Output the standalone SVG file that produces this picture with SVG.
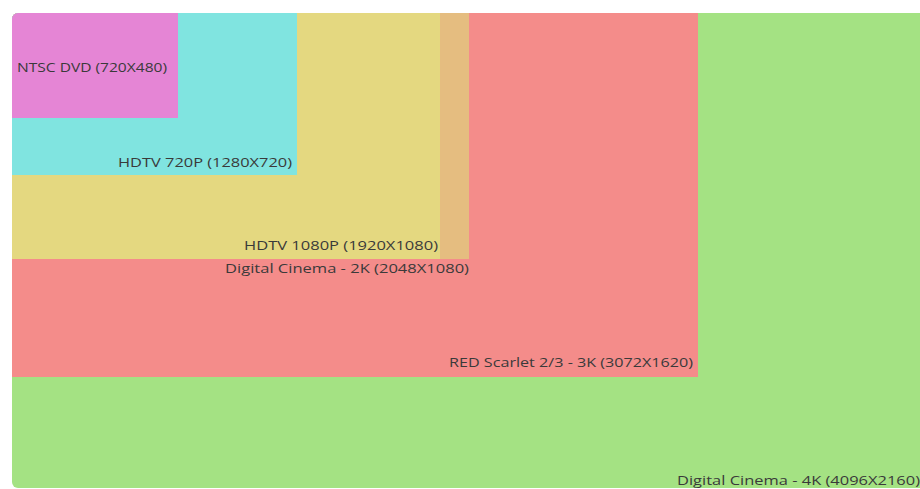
<svg xmlns="http://www.w3.org/2000/svg" width="920" height="489" viewBox="0 0 920 489">
<defs>
<clipPath id="frame"><rect x="12" y="13" width="930" height="475" rx="6" ry="6"/></clipPath>
</defs>
<style>
text{font-family:"Open Sans","Liberation Sans",sans-serif;font-size:12.5px;fill:#3a3a3a;text-anchor:end}
</style>
<rect width="920" height="489" fill="#ffffff"/>
<g clip-path="url(#frame)">
<g id="uhd4k"><rect x="12" y="13" width="930" height="475" fill="#a4e283"/></g>
<g id="red3k"><rect x="12" y="13" width="686" height="364" fill="#f48c8a"/></g>
<g id="dc2k"><rect x="12" y="13" width="457" height="246" fill="#e5bd80"/></g>
<g id="hd1080"><rect x="12" y="13" width="428" height="246" fill="#e4d880"/></g>
<g id="hd720"><rect x="12" y="13" width="285" height="162" fill="#80e4e0"/></g>
<g id="ntsc"><rect x="12" y="13" width="166" height="105" fill="#e585d5"/></g>
</g>
<g id="labels">
<text x="167" y="72" textLength="150" lengthAdjust="spacingAndGlyphs">NTSC DVD (720X480)</text>
<text x="292" y="167" textLength="174" lengthAdjust="spacingAndGlyphs">HDTV 720P (1280X720)</text>
<text x="438" y="250" textLength="194" lengthAdjust="spacingAndGlyphs">HDTV 1080P (1920X1080)</text>
<text x="469" y="273" textLength="244" lengthAdjust="spacingAndGlyphs">Digital Cinema - 2K (2048X1080)</text>
<text x="693" y="367" textLength="244" lengthAdjust="spacingAndGlyphs">RED Scarlet 2/3 - 3K (3072X1620)</text>
<text x="920" y="485" textLength="243" lengthAdjust="spacingAndGlyphs">Digital Cinema - 4K (4096X2160)</text>
</g>
</svg>
